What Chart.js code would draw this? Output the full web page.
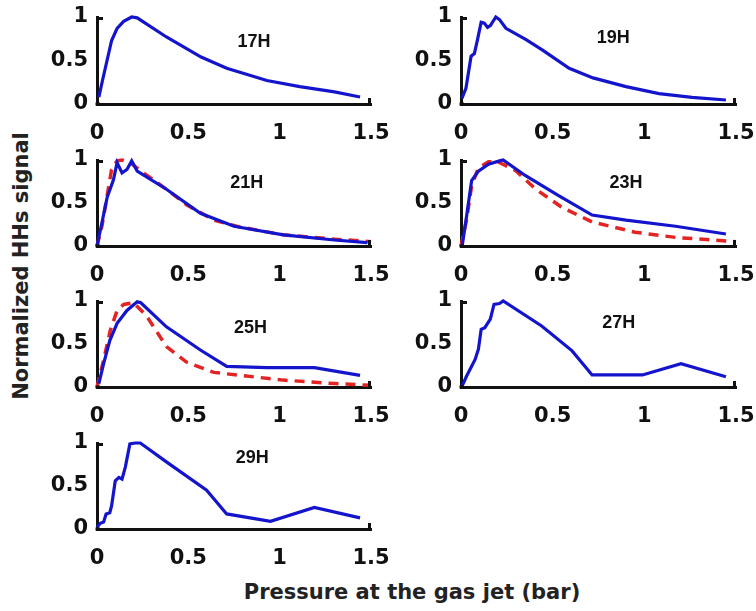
<!DOCTYPE html>
<html>
<head>
<meta charset="utf-8">
<script src="https://cdn.jsdelivr.net/npm/chart.js@4/dist/chart.umd.min.js"></script>
<style>
  html, body { margin: 0; padding: 0; background: #fff; }
  body { width: 756px; height: 611px; position: relative; overflow: hidden; }
  .box { position: absolute; }
  .ytitle { position: absolute; left: 21px; top: 266px; transform: translate(-50%, -50%) rotate(-90deg); white-space: nowrap; font-family: "DejaVu Sans", sans-serif; font-weight: bold; font-size: 21px; color: #222; }
  .xtitle { position: absolute; left: 412px; top: 592px; transform: translate(-50%, -50%); white-space: nowrap; font-family: "DejaVu Sans", sans-serif; font-weight: bold; font-size: 21px; color: #222; }
</style>
</head>
<body>
<div class="ytitle">Normalized HHs signal</div>
<div class="xtitle">Pressure at the gas jet (bar)</div>
<script>
// ---------------- DATA ----------------
const panelNames = ["17H", "19H", "21H", "23H", "25H", "27H", "29H"];
const xTicks = [0, 0.5, 1, 1.5];
const yTicks = [0, 0.5, 1];

// 17H measured
const h17_p = [0.01, 0.03, 0.055, 0.08, 0.11, 0.146, 0.19, 0.22, 0.38, 0.57, 0.71, 0.93, 1.11, 1.30, 1.44];
const h17_s = [0.08, 0.27, 0.50, 0.73, 0.87, 0.95, 1.0, 0.99, 0.77, 0.54, 0.41, 0.27, 0.20, 0.14, 0.08];

// 19H measured
const h19_p = [0.005, 0.027, 0.055, 0.073, 0.09, 0.11, 0.127, 0.145, 0.16, 0.19, 0.21, 0.245, 0.355, 0.445, 0.59, 0.72, 0.90, 1.08, 1.26, 1.445];
const h19_s = [0.065, 0.18, 0.55, 0.58, 0.74, 0.94, 0.93, 0.88, 0.90, 1.0, 0.97, 0.87, 0.74, 0.62, 0.41, 0.30, 0.20, 0.12, 0.077, 0.046];

// 21H measured + simulated
const h21_p = [0, 0.027, 0.055, 0.09, 0.11, 0.137, 0.164, 0.19, 0.22, 0.38, 0.566, 0.75, 1.02, 1.30, 1.48];
const h21_s = [0, 0.27, 0.56, 0.77, 0.97, 0.85, 0.89, 0.99, 0.87, 0.66, 0.38, 0.23, 0.13, 0.07, 0.04];
const h21_simP = [0, 0.027, 0.055, 0.08, 0.11, 0.137, 0.18, 0.255, 0.38, 0.49, 0.64, 0.785, 1.02, 1.30, 1.50];
const h21_simS = [0, 0.23, 0.58, 0.89, 0.99, 1.0, 0.97, 0.85, 0.66, 0.48, 0.30, 0.22, 0.13, 0.08, 0.05];

// 23H measured + simulated
const h23_p = [0.007, 0.03, 0.058, 0.095, 0.15, 0.21, 0.23, 0.35, 0.53, 0.715, 0.90, 1.17, 1.445];
const h23_s = [0.01, 0.34, 0.76, 0.87, 0.95, 0.99, 1.0, 0.82, 0.59, 0.36, 0.30, 0.23, 0.14];
const h23_simP = [0, 0.03, 0.058, 0.095, 0.15, 0.20, 0.296, 0.405, 0.55, 0.715, 0.95, 1.17, 1.50];
const h23_simS = [0, 0.30, 0.70, 0.91, 0.98, 0.98, 0.88, 0.665, 0.45, 0.28, 0.16, 0.10, 0.05];

// 25H measured + simulated
const h25_p = [0.01, 0.036, 0.07, 0.11, 0.164, 0.22, 0.24, 0.38, 0.566, 0.71, 0.93, 1.19, 1.44];
const h25_s = [0.04, 0.27, 0.54, 0.74, 0.89, 0.99, 0.98, 0.70, 0.43, 0.24, 0.225, 0.225, 0.135];
const h25_simP = [0, 0.036, 0.073, 0.11, 0.146, 0.20, 0.27, 0.38, 0.49, 0.64, 0.785, 1.02, 1.30, 1.50];
const h25_simS = [0, 0.31, 0.66, 0.89, 0.96, 0.98, 0.83, 0.47, 0.29, 0.17, 0.135, 0.08, 0.04, 0.02];

// 27H measured
const h27_p = [0.007, 0.03, 0.058, 0.077, 0.095, 0.11, 0.13, 0.16, 0.18, 0.21, 0.23, 0.44, 0.606, 0.715, 0.99, 1.20, 1.445];
const h27_s = [0.016, 0.125, 0.24, 0.32, 0.44, 0.67, 0.69, 0.79, 0.96, 0.97, 1.0, 0.71, 0.42, 0.14, 0.14, 0.27, 0.12];

// 29H measured
const h29_p = [0, 0.018, 0.036, 0.05, 0.07, 0.08, 0.10, 0.12, 0.137, 0.155, 0.18, 0.21, 0.237, 0.38, 0.60, 0.71, 0.95, 1.19, 1.44];
const h29_s = [0.02, 0.066, 0.08, 0.175, 0.19, 0.27, 0.56, 0.60, 0.58, 0.72, 0.99, 1.0, 1.0, 0.78, 0.45, 0.175, 0.09, 0.25, 0.13];

// ---------------- LAYOUT / STYLE ----------------
const BLUE = "rgb(20,20,205)";
const RED = "rgb(228,35,35)";
const PAD_TOP = 16, PAD_RIGHT = 22, Y_W = 57, X_H = 44;
const colLeft = [97, 461];       // chart-area left edge per column
const colWidth = [274, 275];     // chart-area width per column
const rowTop = [17, 160, 301, 443];
const rowH = [87, 86, 86, 86];
const titlePos = [[0.86, 0.71], [0.83, 0.76], [0.82, 0.73], [0.90, 0.73], [0.84, 0.69], [0.86, 0.74], [0.85, 0.82]];

const pairs = (xs, ys) => xs.map((x, i) => ({ x: x, y: ys[i] }));

const panels = [
  { meas: [h17_p, h17_s] },
  { meas: [h19_p, h19_s] },
  { meas: [h21_p, h21_s], sim: [h21_simP, h21_simS] },
  { meas: [h23_p, h23_s], sim: [h23_simP, h23_simS] },
  { meas: [h25_p, h25_s], sim: [h25_simP, h25_simS] },
  { meas: [h27_p, h27_s] },
  { meas: [h29_p, h29_s] },
];

const axisDecor = {
  id: "axisDecor",
  afterDraw(chart, args, opts) {
    const { ctx, chartArea: a, scales: { x, y } } = chart;
    ctx.save();
    ctx.strokeStyle = "#111";
    ctx.lineWidth = 3;
    ctx.lineCap = "butt";
    const xm = x.getPixelForValue(x.max);
    ctx.beginPath(); ctx.moveTo(xm - 1.5, a.bottom + 1); ctx.lineTo(xm - 1.5, a.bottom - 6); ctx.stroke();
    const ym = y.getPixelForValue(y.max);
    ctx.beginPath(); ctx.moveTo(a.left - 1, ym + 1.5); ctx.lineTo(a.left + 6, ym + 1.5); ctx.stroke();
    ctx.beginPath(); ctx.moveTo(a.left - 1.5, a.bottom); ctx.lineTo(a.left + 3, a.bottom); ctx.stroke();
    ctx.fillStyle = "#111";
    ctx.font = "bold 18px 'Liberation Sans', Arial, sans-serif";
    ctx.textAlign = "center";
    ctx.textBaseline = "middle";
    ctx.fillText(opts.label, x.getPixelForValue(opts.pos[0]), y.getPixelForValue(opts.pos[1]));
    ctx.restore();
  }
};

panels.forEach((p, i) => {
  const col = i % 2, row = Math.floor(i / 2);
  const div = document.createElement("div");
  div.className = "box";
  const w = Y_W + colWidth[col] + PAD_RIGHT;
  const h = PAD_TOP + rowH[row] + X_H;
  div.style.left = (colLeft[col] - Y_W) + "px";
  div.style.top = (rowTop[row] - PAD_TOP) + "px";
  div.style.width = w + "px";
  div.style.height = h + "px";
  const cv = document.createElement("canvas");
  div.appendChild(cv);
  document.body.appendChild(div);

  const datasets = [];
  if (p.sim) {
    datasets.push({
      data: pairs(p.sim[0], p.sim[1]),
      borderColor: RED, borderWidth: 3.5, borderDash: [10, 7],
      pointRadius: 0, tension: 0, fill: false, clip: 4, order: 2
    });
  }
  datasets.push({
    data: pairs(p.meas[0], p.meas[1]),
    borderColor: BLUE, borderWidth: 3.2,
    pointRadius: 0, tension: 0, fill: false, clip: 4, order: 1
  });

  const tickFont = { family: "'DejaVu Sans', sans-serif", size: 21, weight: "bold" };
  new Chart(cv, {
    type: "line",
    data: { datasets: datasets },
    options: {
      responsive: true,
      maintainAspectRatio: false,
      animation: false,
      events: [],
      layout: { padding: { top: PAD_TOP, right: PAD_RIGHT, left: 0, bottom: 0 } },
      plugins: {
        legend: { display: false },
        tooltip: { enabled: false },
        axisDecor: { label: panelNames[i], pos: titlePos[i] }
      },
      scales: {
        x: {
          type: "linear", min: 0, max: 1.5,
          afterBuildTicks: (s) => { s.ticks = xTicks.map(v => ({ value: v })); },
          afterFit: (s) => { s.height = X_H; },
          grid: { display: false, drawTicks: true, tickLength: 16 },
          border: { display: true, color: "#111", width: 3 },
          ticks: { color: "#111", font: tickFont, padding: 1, maxRotation: 0, autoSkip: false, callback: (v) => String(v) }
        },
        y: {
          type: "linear", min: 0, max: 1,
          afterBuildTicks: (s) => { s.ticks = yTicks.map(v => ({ value: v })); },
          afterFit: (s) => { s.width = Y_W; },
          grid: { display: false, drawTicks: true, tickLength: 9 },
          border: { display: true, color: "#111", width: 3 },
          ticks: { color: "#111", font: tickFont, padding: 0, callback: (v) => String(v) }
        }
      }
    },
    plugins: [axisDecor]
  });
});
</script>
</body>
</html>
